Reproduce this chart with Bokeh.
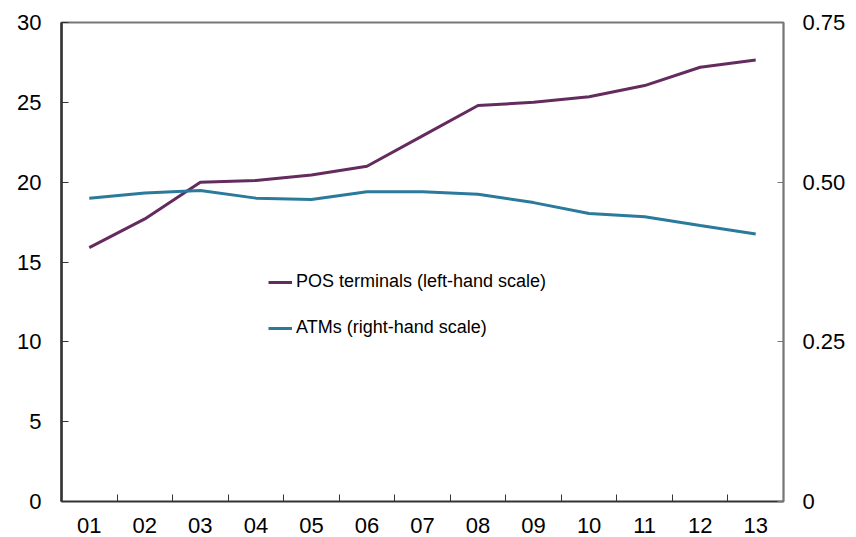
from bokeh.plotting import figure
from bokeh.models import (LinearAxis, Range1d, FixedTicker, Legend, LegendItem,
                          ColumnDataSource)
from bokeh.embed import file_html
from bokeh.resources import INLINE

years = ["01", "02", "03", "04", "05", "06", "07", "08", "09", "10", "11", "12", "13"]
pos_terminals = [15.9, 17.7, 20.0, 20.1, 20.45, 21.0, 22.9, 24.8, 25.0, 25.35, 26.05, 27.2, 27.65]
atms = [0.475, 0.483, 0.487, 0.475, 0.473, 0.485, 0.485, 0.481, 0.468, 0.451, 0.446, 0.432, 0.419]
left_ticks = [0, 5, 10, 15, 20, 25, 30]
right_ticks = [0, 0.25, 0.5, 0.75]
right_labels = ["0", "0.25", "0.50", "0.75"]

xs = list(range(1, len(years) + 1))
src = ColumnDataSource(dict(x=xs, pos=pos_terminals, atm=atms))

FONT = "Liberation Sans"
PURPLE = "#642c5e"
BLUE = "#2b7a9c"

p = figure(width=848, height=537, output_backend="svg", toolbar_location=None,
           x_range=Range1d(0.5, len(years) + 0.5), y_range=Range1d(0, 30),
           min_border_left=61, min_border_right=61, min_border_top=22,
           min_border_bottom=36)
p.extra_y_ranges = {"atm": Range1d(0, 0.75)}
p.grid.visible = False
p.outline_line_color = "#777777"
p.outline_line_width = 2
p.background_fill_color = "white"
p.border_fill_color = "white"

r1 = p.line("x", "pos", source=src, line_color=PURPLE, line_width=3)
r2 = p.line("x", "atm", source=src, line_color=BLUE, line_width=3, y_range_name="atm")

# x axis
xa = p.xaxis[0]
xa.ticker = FixedTicker(ticks=xs, minor_ticks=[i + 0.5 for i in xs[:-1]])
xa.major_label_overrides = {i: y for i, y in zip(xs, years)}
xa.major_tick_line_color = None
xa.minor_tick_in = 7
xa.minor_tick_out = 0
xa.minor_tick_line_color = "#333333"
xa.axis_line_color = "#333333"
xa.axis_line_width = 1.5
xa.major_label_text_font = FONT
xa.major_label_text_font_size = "22px"
xa.major_label_text_color = "black"
xa.major_label_standoff = 10

# left axis
ya = p.yaxis[0]
ya.ticker = FixedTicker(ticks=left_ticks, minor_ticks=[])
ya.major_tick_in = 7
ya.major_tick_out = 0
ya.major_tick_line_color = "#333333"
ya.minor_tick_line_color = None
ya.axis_line_color = "#333333"
ya.axis_line_width = 2.5
ya.major_label_text_font = FONT
ya.major_label_text_font_size = "22px"
ya.major_label_text_color = "black"
ya.major_label_standoff = 20

# right axis
ra = LinearAxis(y_range_name="atm", ticker=FixedTicker(ticks=right_ticks, minor_ticks=[]))
ra.major_label_overrides = {t: l for t, l in zip(right_ticks, right_labels)}
ra.major_tick_in = 6
ra.major_tick_out = 0
ra.major_tick_line_color = "#777777"
ra.minor_tick_line_color = None
ra.axis_line_color = "#777777"
ra.axis_line_width = 1.5
ra.major_label_text_font = FONT
ra.major_label_text_font_size = "22px"
ra.major_label_text_color = "black"
ra.major_label_standoff = 19
p.add_layout(ra, "right")

legend = Legend(items=[LegendItem(label="POS terminals (left-hand scale)", renderers=[r1]),
                       LegendItem(label="ATMs (right-hand scale)", renderers=[r2])],
                location=(207, 163), orientation="vertical",
                glyph_width=24, glyph_height=20, label_height=20, spacing=25,
                label_standoff=4, padding=0, margin=0,
                label_text_font=FONT, label_text_font_size="18px",
                label_text_color="black",
                background_fill_alpha=0, border_line_color=None)
p.add_layout(legend, "center")

open("out.html", "w").write(file_html(p, INLINE))
